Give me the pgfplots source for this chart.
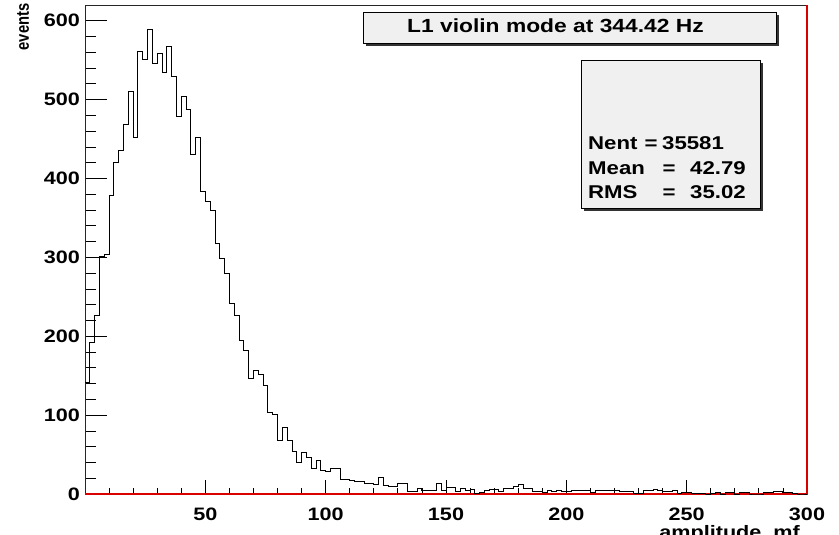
\documentclass[border=0pt]{standalone}
\usepackage{pgfplots}
\pgfplotsset{compat=1.18}
\usepackage{fontspec}
\setmainfont{Liberation Sans}[FakeStretch=1.2]
\newfontfamily\evfont{Liberation Sans}[FakeStretch=0.82]
\pgfplotstableread{
x y
0 141
2 192
4 226
6 301
8 304
10 379
12 421
14 435
16 469
18 511
20 452
22 561
24 551
26 589
28 546
30 559
32 534
34 568
36 530
38 479
40 504
42 488
44 431
46 452
48 384
50 371
52 359
54 318
56 299
58 279
60 242
62 227
64 195
66 182
68 147
70 157
72 152
74 137
76 104
78 101
80 68
82 85
84 68
86 54
88 40
90 53
92 46
94 33
96 42
98 30
100 28
102 32
104 32
106 18
108 18
110 17
112 16
114 16
116 13
118 13
120 12
122 21
124 11
126 9
128 9
130 14
132 14
134 3
136 3
138 7
140 4
142 4
144 4
146 13
148 4
150 8
152 8
154 3
156 7
158 4
160 6
162 1
164 2
166 4
168 6
170 6
172 3
174 7
176 7
178 9
180 12
182 7
184 7
186 3
188 3
190 2
192 4
194 3
196 5
198 3
200 3
202 5
204 5
206 4
208 4
210 2
212 5
214 4
216 4
218 4
220 5
222 3
224 3
226 3
228 1
230 1
232 4
234 4
236 6
238 5
240 3
242 3
244 4
246 1
248 2
250 2
252 1
254 1
256 1
258 0
260 1
262 2
264 0
266 2
268 2
270 0
272 2
274 2
276 0
278 0
280 0
282 2
284 2
286 3
288 3
290 2
292 2
294 1
296 0
298 0
300 0
}\histdata
\begin{document}
\begin{tikzpicture}
\useasboundingbox (0pt,0pt) rectangle (839pt,535pt);
\begin{axis}[
  at={(85pt,41pt)}, anchor=south west,
  width=722pt, height=489pt, scale only axis,
  xmin=0, xmax=300, ymin=0, ymax=620,
  xtick={0,50,...,300}, xticklabels={,50,100,150,200,250,300},
  ytick={0,100,...,600},
  minor tick num=4,
  tick pos=left,
  major tick length=22pt, minor tick length=11pt,
  xtick style={/pgfplots/major tick length=14pt, /pgfplots/minor tick length=6pt},
  tick style={black, line width=0.8pt},
  axis line style={black!85, line width=0.9pt},
  ticklabel style={font=\fontsize{18}{18}\selectfont\bfseries},
  /pgf/number format/assume math mode=true,
  xticklabel style={inner sep=0pt, yshift=-14pt},
  yticklabel style={inner sep=0pt, xshift=-5pt},
  clip=false,
]
\draw[red!85!black, line width=2pt] (rel axis cs:0,0) -- (rel axis cs:1,0) -- (rel axis cs:1,1);
\addplot[const plot mark left, black, line width=0.9pt] table {\histdata};
\end{axis}
% axis titles
\node[rotate=90, inner sep=0pt] at (23pt,508pt) {\evfont\bfseries\fontsize{18}{18}\selectfont events};
\node[anchor=north east, inner sep=0pt, font=\fontsize{18}{18}\selectfont\bfseries] at (800pt,10pt) {amplitude, mf};
% title box
\fill[black!80] (366pt,489pt) rectangle (779pt,520pt);
\draw[black, line width=0.8pt, fill=black!6] (363pt,492pt) rectangle (776pt,523pt);
\node[anchor=base west, inner sep=0pt, font=\fontsize{19}{19}\selectfont\bfseries] at (407pt,502pt) {L1 violin mode at 344.42 Hz};
% stats box
\fill[black!80] (584pt,324pt) rectangle (763pt,472pt);
\draw[black, line width=0.8pt, fill=black!6] (581pt,327pt) rectangle (760pt,475pt);
\begin{scope}[every node/.style={inner sep=0pt, font=\fontsize{18.5}{18.5}\selectfont\bfseries}]
\node[anchor=base west] at (588pt,385pt) {Nent};
\node[anchor=base] at (651pt,385pt) {=};
\node[anchor=base west] at (662pt,385pt) {35581};
\node[anchor=base west] at (588pt,360pt) {Mean};
\node[anchor=base] at (669pt,360pt) {=};
\node[anchor=base west] at (690pt,360pt) {42.79};
\node[anchor=base west] at (588pt,336pt) {RMS};
\node[anchor=base] at (669pt,336pt) {=};
\node[anchor=base west] at (690pt,336pt) {35.02};
\end{scope}
\end{tikzpicture}
\end{document}
